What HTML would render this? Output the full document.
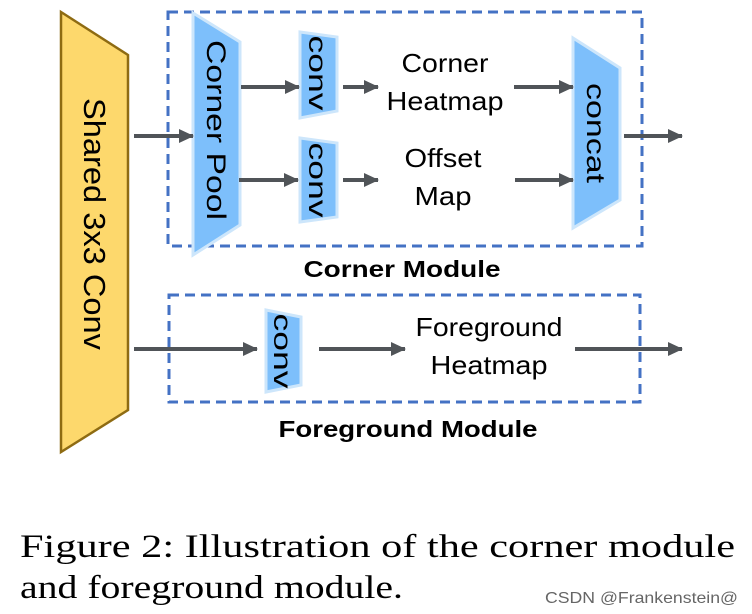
<!DOCTYPE html>
<html><head><style>
html,body{margin:0;padding:0;background:#fff;}
svg{display:block;}
</style></head><body>
<svg width="752" height="614" xmlns="http://www.w3.org/2000/svg">
<defs>
<marker id="a" markerWidth="16" markerHeight="14" refX="14" refY="7" orient="auto" markerUnits="userSpaceOnUse">
<path d="M0,0 L15,7 L0,14 z" fill="#505458"/>
</marker>
</defs>
<rect width="752" height="614" fill="#fff"/>
<polygon points="61,12 128,55 128,410 61,452" fill="#FDD86C" stroke="#8E6B12" stroke-width="2.5"/>
<text transform="translate(84,224) rotate(90)" text-anchor="middle" font-family="Liberation Sans, sans-serif" font-size="31" textLength="252" lengthAdjust="spacingAndGlyphs" fill="#000">Shared 3x3 Conv</text>
<rect x="168" y="12" width="474" height="234" fill="none" stroke="#4472C4" stroke-width="3" stroke-dasharray="10,6"/>
<rect x="169" y="295" width="471" height="107" fill="none" stroke="#4472C4" stroke-width="3" stroke-dasharray="10,6"/>
<polygon points="193,13 240,42 240,225 193,255" fill="#7DBFFB" stroke="#CDE6FB" stroke-width="3"/>
<text transform="translate(207,130) rotate(90)" text-anchor="middle" font-family="Liberation Sans, sans-serif" font-size="27" textLength="180" lengthAdjust="spacingAndGlyphs" fill="#000">Corner Pool</text>
<polygon points="300,32 337,37 337,111 300,118" fill="#7DBFFB" stroke="#CDE6FB" stroke-width="3"/>
<text transform="translate(309,73) rotate(90)" text-anchor="middle" font-family="Liberation Sans, sans-serif" font-size="25" textLength="75" lengthAdjust="spacingAndGlyphs" fill="#000">conv</text>
<polygon points="300,138 337,143 337,217 300,222" fill="#7DBFFB" stroke="#CDE6FB" stroke-width="3"/>
<text transform="translate(309,180) rotate(90)" text-anchor="middle" font-family="Liberation Sans, sans-serif" font-size="25" textLength="75" lengthAdjust="spacingAndGlyphs" fill="#000">conv</text>
<polygon points="573,38 620,68 620,200 573,228" fill="#7DBFFB" stroke="#CDE6FB" stroke-width="3"/>
<text transform="translate(587,133) rotate(90)" text-anchor="middle" font-family="Liberation Sans, sans-serif" font-size="26" textLength="100" lengthAdjust="spacingAndGlyphs" fill="#000">concat</text>
<polygon points="266,310 301,317 301,385 266,392" fill="#7DBFFB" stroke="#CDE6FB" stroke-width="3"/>
<text transform="translate(274,351) rotate(90)" text-anchor="middle" font-family="Liberation Sans, sans-serif" font-size="25" textLength="75" lengthAdjust="spacingAndGlyphs" fill="#000">conv</text>
<g font-family="Liberation Sans, sans-serif" font-size="26" fill="#000" text-anchor="middle">
<text x="445" y="72" textLength="87" lengthAdjust="spacingAndGlyphs">Corner</text>
<text x="445" y="110" textLength="117" lengthAdjust="spacingAndGlyphs">Heatmap</text>
<text x="443" y="167" textLength="77" lengthAdjust="spacingAndGlyphs">Offset</text>
<text x="443" y="205" textLength="57" lengthAdjust="spacingAndGlyphs">Map</text>
<text x="489" y="336" textLength="147" lengthAdjust="spacingAndGlyphs">Foreground</text>
<text x="489" y="374" textLength="117" lengthAdjust="spacingAndGlyphs">Heatmap</text>
</g>
<g font-family="Liberation Sans, sans-serif" font-size="23" font-weight="bold" fill="#000" text-anchor="middle">
<text x="402" y="277" textLength="197" lengthAdjust="spacingAndGlyphs">Corner Module</text>
<text x="408" y="437" textLength="259" lengthAdjust="spacingAndGlyphs">Foreground Module</text>
</g>
<g stroke="#505458" stroke-width="4" marker-end="url(#a)">
<line x1="134" y1="136" x2="193" y2="136"/>
<line x1="241" y1="87" x2="299" y2="87"/>
<line x1="239" y1="180" x2="298" y2="180"/>
<line x1="343" y1="87" x2="378" y2="87"/>
<line x1="343" y1="180" x2="378" y2="180"/>
<line x1="514" y1="87" x2="573" y2="87"/>
<line x1="515" y1="180" x2="573" y2="180"/>
<line x1="624" y1="136" x2="682" y2="136"/>
<line x1="134" y1="349" x2="257" y2="349"/>
<line x1="319" y1="349" x2="405" y2="349"/>
<line x1="575" y1="349" x2="682" y2="349"/>
</g>
<g font-family="Liberation Serif, serif" font-size="33" fill="#000">
<text x="20" y="557" textLength="715" lengthAdjust="spacingAndGlyphs">Figure 2:  Illustration of the corner module</text>
<text x="20" y="598" textLength="383" lengthAdjust="spacingAndGlyphs">and foreground module.</text>
</g>
<text x="738" y="603" text-anchor="end" font-family="Liberation Sans, sans-serif" font-size="16" textLength="193" lengthAdjust="spacingAndGlyphs" fill="#666">CSDN @Frankenstein@</text>
</svg>
</body></html>
